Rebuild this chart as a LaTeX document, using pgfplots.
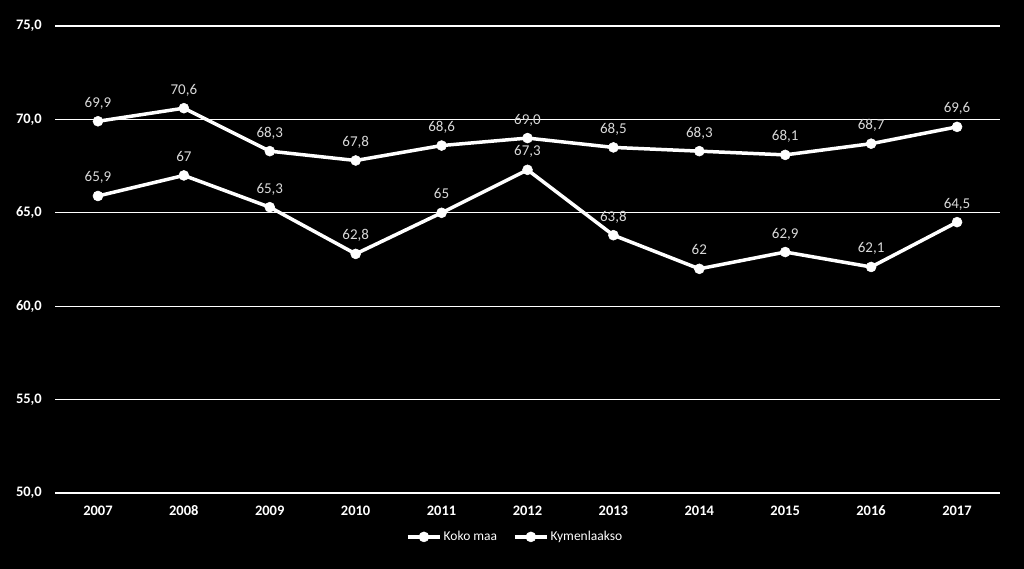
\documentclass[border=0pt]{standalone}
\usepackage{pgfplots}
\pgfplotsset{compat=1.18}
\usepackage{fontspec}
\setmainfont{Carlito}
\definecolor{lbl}{HTML}{D9D9D9}
\begin{document}
\begin{tikzpicture}
\fill[black] (0bp,0bp) rectangle (1024bp,569bp);
\useasboundingbox (0bp,0bp) rectangle (1024bp,569bp);
\begin{axis}[
    at={(55bp,76bp)}, anchor=south west,
    scale only axis, width=945bp, height=467bp,
    xmin=2006.5, xmax=2017.5, ymin=50, ymax=75,
    xtick={2007,...,2017}, ytick={50,55,...,75},
    axis line style={draw=none}, tick style={draw=none},
    ymajorgrids, grid style={white, line width=1.3bp},
    /pgf/number format/assume math mode=true,
    x tick label style={/pgf/number format/1000 sep={}, inner sep=0pt, anchor=base, yshift=-22bp},
    y tick label style={/pgf/number format/.cd, fixed, fixed zerofill, precision=1, use comma, /tikz/.cd, inner sep=0pt, xshift=-13bp},
    ticklabel style={text=white, font=\fontsize{14.5bp}{17bp}\selectfont\bfseries},
    legend style={at={(0.487,-0.094)}, anchor=center, draw=none, fill=black, text=white,
        font=\fontsize{13.5bp}{16bp}\selectfont, legend columns=2,
        /tikz/every even column/.append style={column sep=14bp}},
    legend cell align=left,
    legend image code/.code={\draw[mark repeat=2,mark phase=2,#1] plot coordinates {(0bp,0bp)(16bp,0bp)(32bp,0bp)};},
    point meta=explicit symbolic,
    nodes near coords,
    every node near coord/.append style={anchor=base, yshift=14bp, inner sep=0pt, text=lbl,
        font=\fontsize{15bp}{17bp}\selectfont},
]
\addplot[white, line width=3.5bp, mark=*, mark size=5bp,
    mark options={fill=white, draw=white, line width=0.5bp}] table[x=x, y=y, meta=l] {
x y l
2007 69.9 69,9
2008 70.6 70,6
2009 68.3 68,3
2010 67.8 67,8
2011 68.6 68,6
2012 69.0 69,0
2013 68.5 68,5
2014 68.3 68,3
2015 68.1 68,1
2016 68.7 68,7
2017 69.6 69,6
};
\addplot[white, line width=3.5bp, mark=*, mark size=5bp,
    mark options={fill=white, draw=white, line width=0.5bp}] table[x=x, y=y, meta=l] {
x y l
2007 65.9 65,9
2008 67.0 67
2009 65.3 65,3
2010 62.8 62,8
2011 65.0 65
2012 67.3 67,3
2013 63.8 63,8
2014 62.0 62
2015 62.9 62,9
2016 62.1 62,1
2017 64.5 64,5
};
\legend{Koko maa, Kymenlaakso}
\end{axis}
\end{tikzpicture}
\end{document}
